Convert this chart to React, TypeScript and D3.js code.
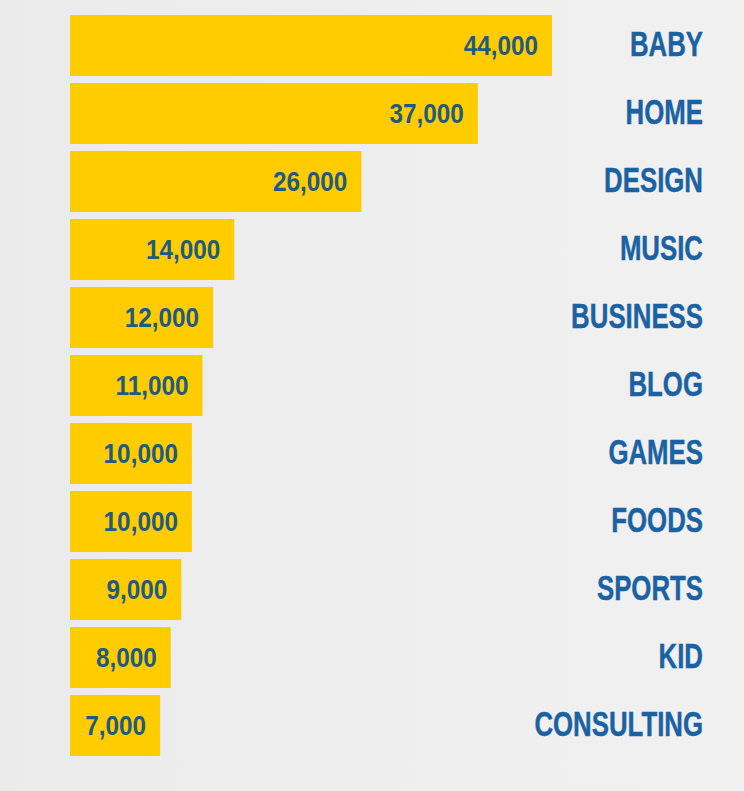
import React from "react";
import * as d3 from "d3";

const categories = ["BABY", "HOME", "DESIGN", "MUSIC", "BUSINESS", "BLOG", "GAMES", "FOODS", "SPORTS", "KID", "CONSULTING"];
const values = [44000, 37000, 26000, 14000, 12000, 11000, 10000, 10000, 9000, 8000, 7000];

const W = 744;
const H = 791;
const BAR_X0 = 70;

export default function App() {
  const y = d3
    .scaleBand<string>()
    .domain(categories)
    .range([11.5, 759.5])
    .paddingInner(0.103)
    .paddingOuter(0.0515);
  const x = d3.scaleLinear().domain([0, 44000]).range([86, 552]);
  const fmt = d3.format(",");
  const font = "'Liberation Sans', Arial, Helvetica, sans-serif";

  return (
    <svg
      width={W}
      height={H}
      style={{ position: "absolute", left: 0, top: 0, display: "block" }}
    >
      <defs>
        <linearGradient id="bg" x1="0" x2="1" y1="0" y2="0">
          <stop offset="0" stopColor="#ebebeb" />
          <stop offset="1" stopColor="#f1f1f1" />
        </linearGradient>
      </defs>
      <rect x={0} y={0} width={W} height={H} fill="url(#bg)" />
      {categories.map((c, i) => {
        const y0 = y(c)!;
        const bw = y.bandwidth();
        const xe = x(values[i]);
        const cy = y0 + bw / 2;
        return (
          <g key={c}>
            <rect x={BAR_X0} y={y0} width={xe - BAR_X0} height={bw} fill="#ffcc00" />
            <g transform={`translate(${xe - 14}, ${cy + 9.5}) scale(0.9, 1)`}>
              <text
                x={0}
                y={0}
                textAnchor="end"
                fontFamily={font}
                fontWeight="bold"
                fontSize={27}
                fill="#1f5b7e"
              >
                {fmt(values[i])}
              </text>
            </g>
            <g transform={`translate(703, ${cy + 10}) scale(0.86, 1.16)`}>
              <text
                x={0}
                y={0}
                textAnchor="end"
                fontFamily={font}
                fontWeight="bold"
                fontSize={30}
                fill="#1b62a3"
                stroke="#1b62a3"
                strokeWidth={0.4}
              >
                {c}
              </text>
            </g>
          </g>
        );
      })}
    </svg>
  );
}
